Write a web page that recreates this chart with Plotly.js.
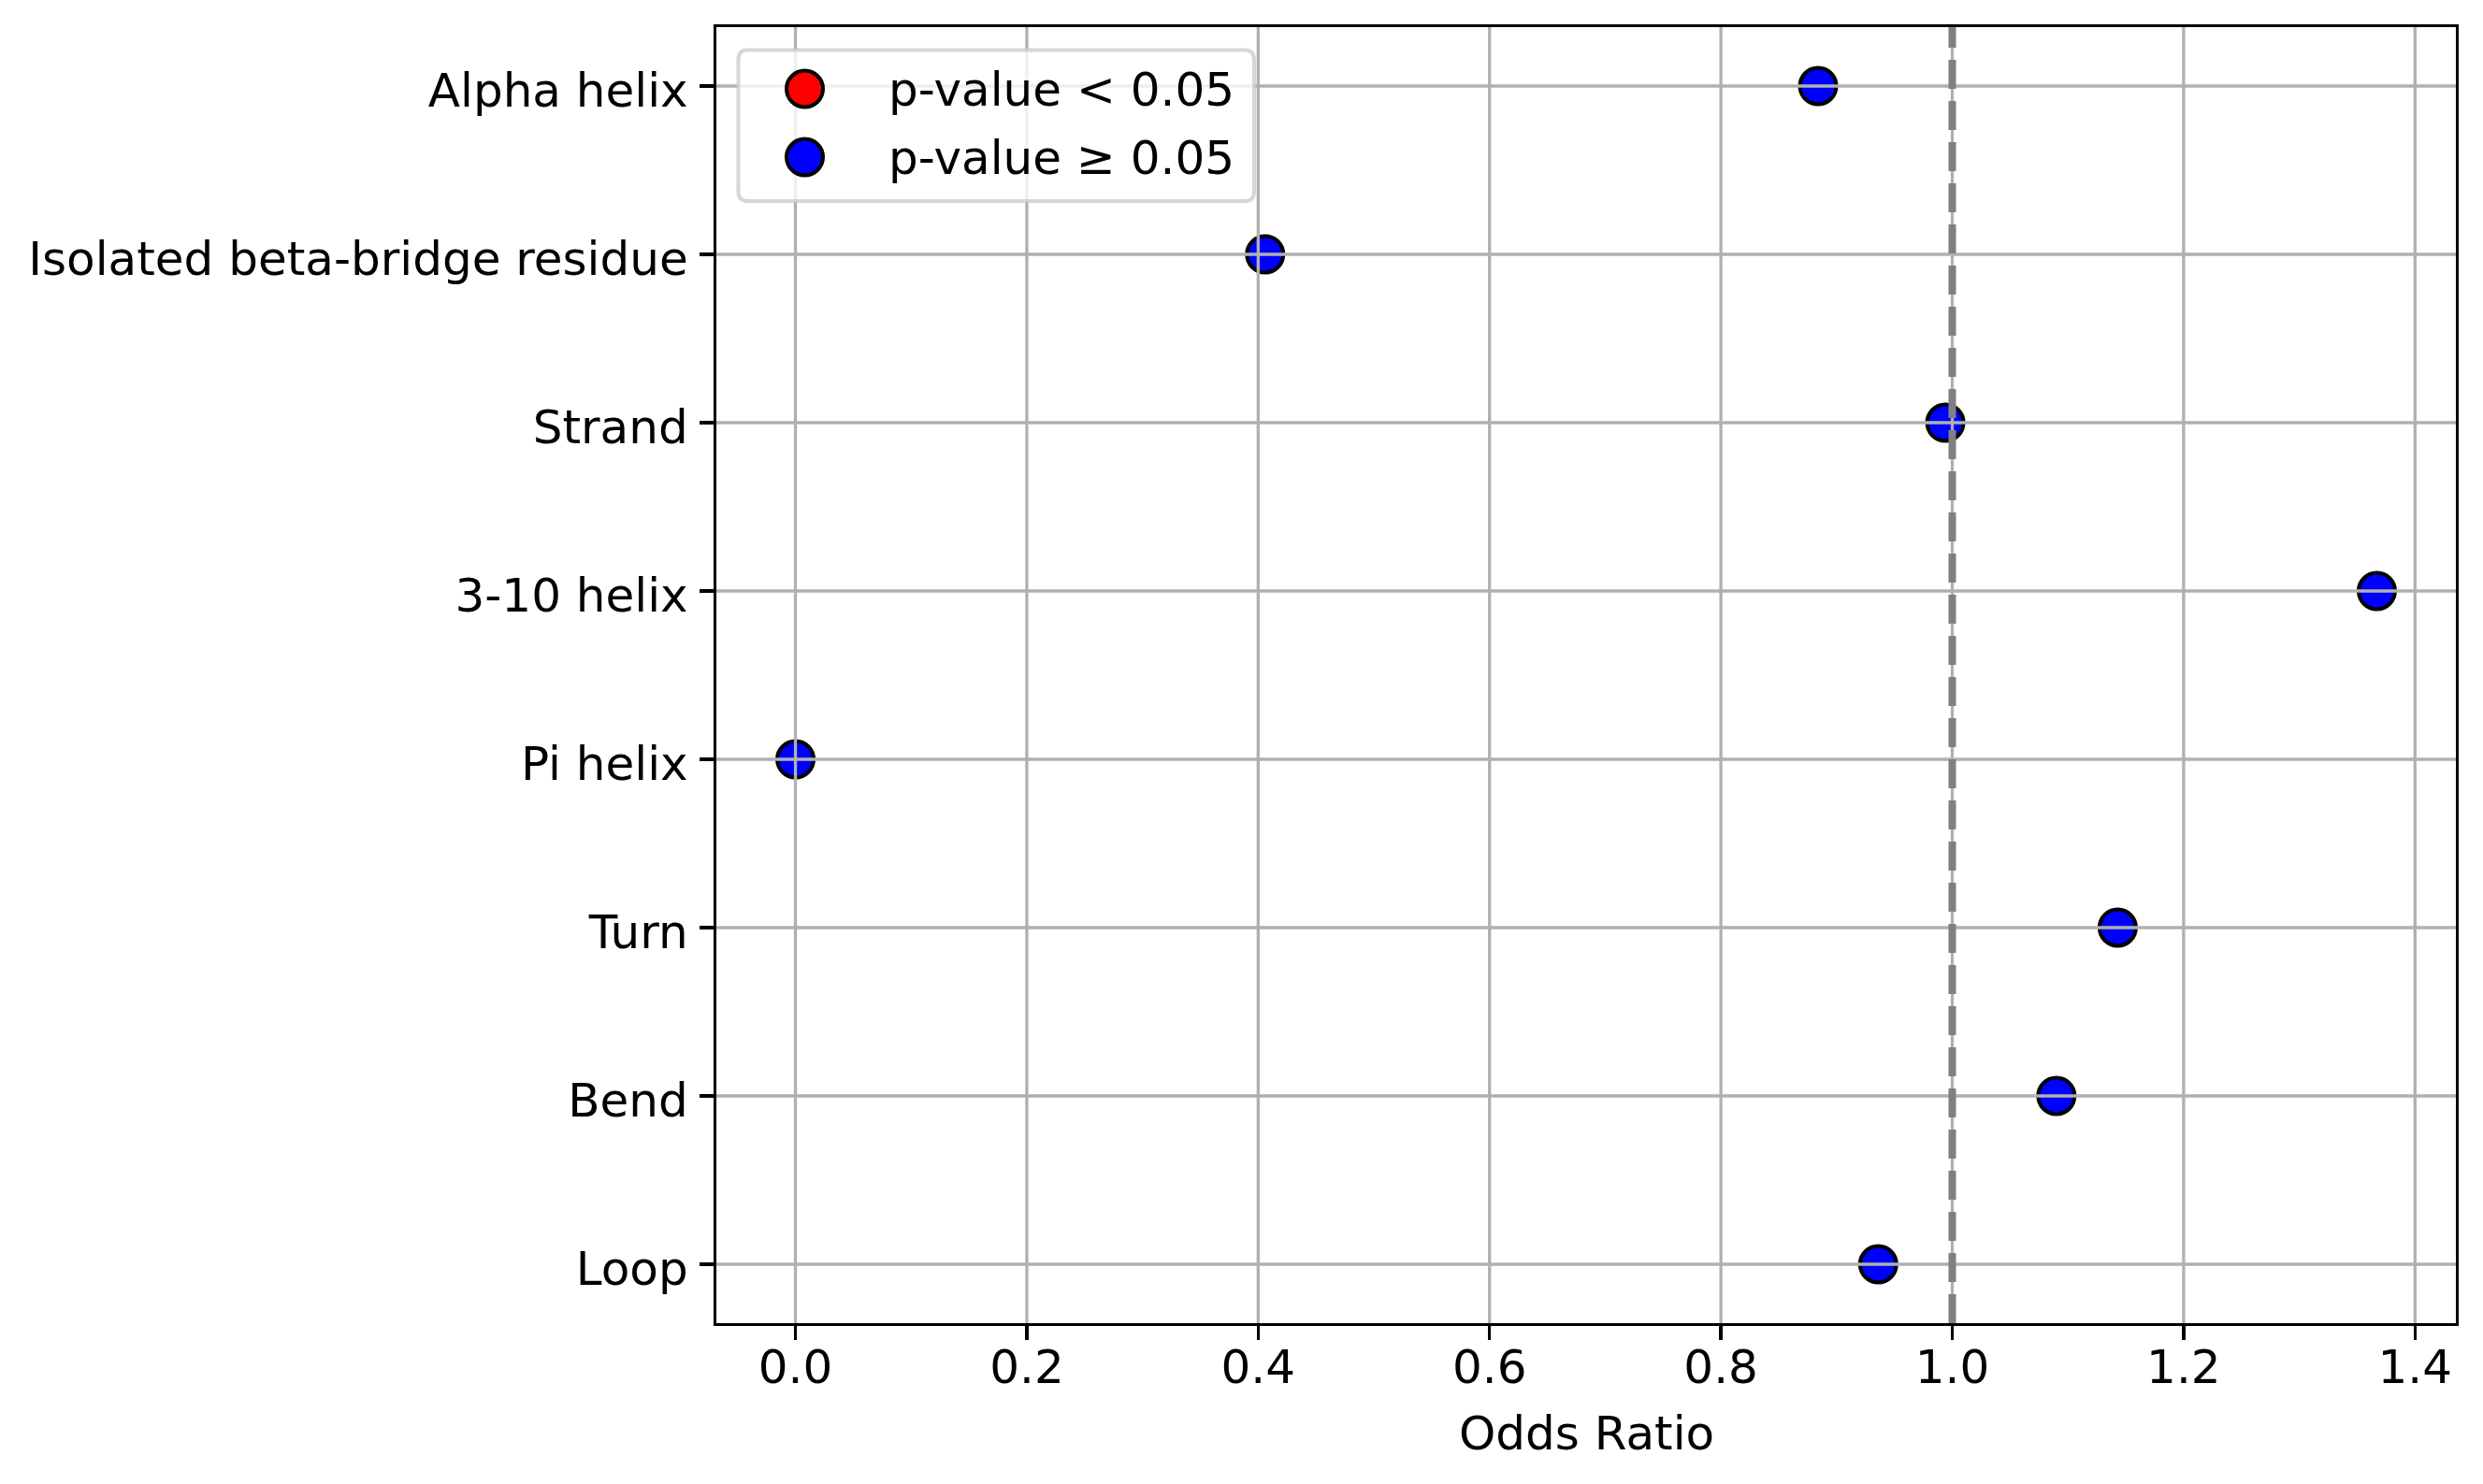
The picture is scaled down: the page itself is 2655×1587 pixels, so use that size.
<!DOCTYPE html>
<html>
<head>
<meta charset="utf-8">
<script src="https://cdn.plot.ly/plotly-3.0.1.min.js"></script>
<style>
  html, body { margin: 0; padding: 0; background: #ffffff; }
  #chart { width: 2655px; height: 1587px; }
</style>
</head>
<body>
<div id="chart"></div>
<script>
'use strict'

// data
const structures = ['Alpha helix', 'Isolated beta-bridge residue', 'Strand', '3-10 helix',
                    'Pi helix', 'Turn', 'Bend', 'Loop'];
const oddsRatio = [0.884, 0.406, 0.994, 1.367, 0.0, 1.143, 1.090, 0.936];
const significant = [false, false, false, false, false, false, false, false]; // all drawn blue

const xTicks = [0.0, 0.2, 0.4, 0.6, 0.8, 1.0, 1.2, 1.4];
const xTitle = 'Odds Ratio';
const legendLabels = ['p-value < 0.05', 'p-value \u2265 0.05'];
const legendColors = ['#ff0000', '#0000ff'];

const FONT = 'DejaVu Sans, Liberation Sans, sans-serif';
const GRID = '#b0b0b0';

// split points into the two groups
let sigX = [], sigY = [], nsX = [], nsY = [];
for (let i = 0; i < structures.length; i++) {
    if (significant[i]) { sigX.push(oddsRatio[i]); sigY.push(structures[i]); }
    else { nsX.push(oddsRatio[i]); nsY.push(structures[i]); }
}

function markerTrace(x, y, color, name) {
    return {
        x: x, y: y, name: name,
        type: 'scatter', mode: 'markers',
        marker: { size: 39, color: color, line: { color: '#000000', width: 4 } },
        showlegend: false, cliponaxis: false
    };
}

const data = [
    markerTrace(sigX, sigY, legendColors[0], legendLabels[0]),
    markerTrace(nsX, nsY, legendColors[1], legendLabels[1])
];

// x range with matplotlib style 5% margins
const xmin = Math.min(...oddsRatio), xmax = Math.max(...oddsRatio);
const pad = (xmax - xmin) * 0.05;
const n = structures.length;

let shapes = [];
// grid lines are drawn above the markers, as in the source figure
xTicks.forEach(function (v) {
    shapes.push({ type: 'line', xref: 'x', yref: 'paper', x0: v, x1: v, y0: 0, y1: 1,
                  layer: 'above', line: { color: GRID, width: 3.3 } });
});
structures.forEach(function (s) {
    shapes.push({ type: 'line', xref: 'paper', yref: 'y', x0: 0, x1: 1, y0: s, y1: s,
                  layer: 'above', line: { color: GRID, width: 3.3 } });
});
// reference line at OR = 1
shapes.push({ type: 'line', xref: 'x', yref: 'paper', x0: 1, x1: 1, y0: 0, y1: 1,
              layer: 'above', line: { color: '#808080', width: 8, dash: '31px,13px' } });

// legend box (rounded), pixel offsets from top-left of plot area
function roundRect(x0, y0, x1, y1, r) {
    // y goes up in pixel sizemode, y0 is top
    return 'M' + (x0 + r) + ',' + y0 +
        ' L' + (x1 - r) + ',' + y0 + ' Q' + x1 + ',' + y0 + ' ' + x1 + ',' + (y0 - r) +
        ' L' + x1 + ',' + (y1 + r) + ' Q' + x1 + ',' + y1 + ' ' + (x1 - r) + ',' + y1 +
        ' L' + (x0 + r) + ',' + y1 + ' Q' + x0 + ',' + y1 + ' ' + x0 + ',' + (y1 + r) +
        ' L' + x0 + ',' + (y0 - r) + ' Q' + x0 + ',' + y0 + ' ' + (x0 + r) + ',' + y0 + ' Z';
}
shapes.push({ type: 'path', xref: 'paper', yref: 'paper', xsizemode: 'pixel', ysizemode: 'pixel',
              xanchor: 0, yanchor: 1, path: roundRect(23.5, -24.5, 575, -186, 10),
              layer: 'above', fillcolor: 'rgba(255,255,255,0.8)',
              line: { color: 'rgba(204,204,204,0.8)', width: 4 } });

let annotations = [];
legendLabels.forEach(function (lab, i) {
    const cy = -66 - i * 73;
    shapes.push({ type: 'circle', xref: 'paper', yref: 'paper', xsizemode: 'pixel', ysizemode: 'pixel',
                  xanchor: 0, yanchor: 1, x0: 94.5 - 19.5, x1: 94.5 + 19.5, y0: cy - 19.5, y1: cy + 19.5,
                  layer: 'above', fillcolor: legendColors[i], line: { color: '#000000', width: 4 } });
    annotations.push({ xref: 'paper', yref: 'paper', x: 0, y: 1, xshift: 182, yshift: cy - 1,
                       xanchor: 'left', yanchor: 'middle', showarrow: false, text: lab,
                       font: { family: FONT, size: 50, color: '#000000' } });
});

// x axis title, placed like matplotlib's xlabel
annotations.push({ xref: 'paper', yref: 'paper', x: 0.5, y: 0, yshift: -118,
                   xanchor: 'center', yanchor: 'middle', showarrow: false, text: xTitle,
                   font: { family: FONT, size: 50, color: '#000000' } });

const layout = {
    width: 2655, height: 1587,
    margin: { l: 765.6, r: 29, t: 29, b: 172, pad: 0 },
    paper_bgcolor: '#ffffff', plot_bgcolor: '#ffffff',
    font: { family: FONT, size: 50, color: '#000000' },
    showlegend: false,
    xaxis: {
        range: [xmin - pad, xmax + pad],
        tickvals: xTicks, ticktext: xTicks.map(v => v.toFixed(1)),
        ticks: 'outside', ticklen: 15, tickwidth: 3.3, tickcolor: '#000000',
        ticklabelstandoff: -14,
        showgrid: false, zeroline: false,
        showline: true, mirror: true, linecolor: '#000000', linewidth: 3.3,
        tickfont: { family: FONT, size: 50, color: '#000000' }
    },
    yaxis: {
        type: 'category', categoryorder: 'array', categoryarray: structures,
        range: [n - 1 + 0.35, -0.35],
        ticks: 'outside', ticklen: 15, tickwidth: 3.3, tickcolor: '#000000',
        ticklabelstandoff: 2, ticklabelshift: -4,
        showgrid: false, zeroline: false,
        showline: true, mirror: true, linecolor: '#000000', linewidth: 3.3,
        tickfont: { family: FONT, size: 50, color: '#000000' }
    },
    shapes: shapes,
    annotations: annotations
};

Plotly.newPlot('chart', data, layout, { displayModeBar: false, staticPlot: true });
</script>
</body>
</html>
